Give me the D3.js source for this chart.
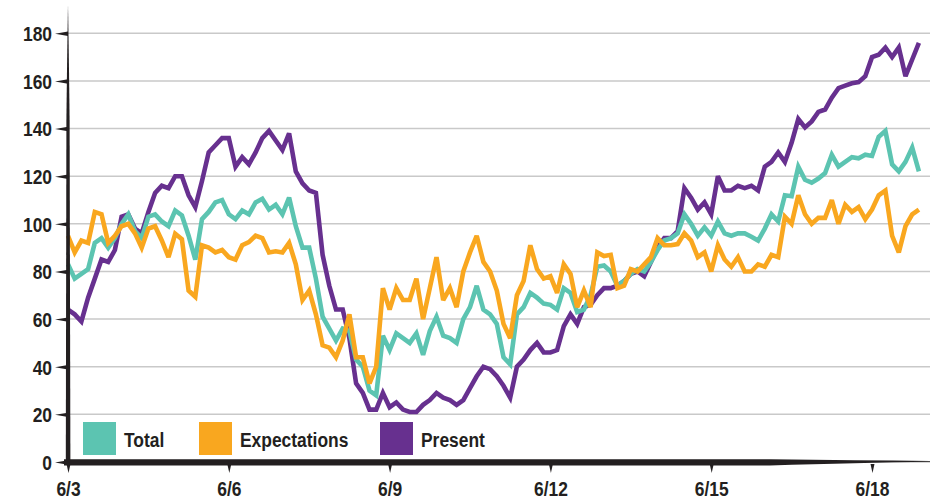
<!DOCTYPE html>
<html>
<head>
<meta charset="utf-8">
<script src="https://cdn.jsdelivr.net/npm/d3@7"></script>
<style>
  html, body { margin: 0; padding: 0; background: #fff; }
  svg { display: block; }
  text { font-family: "Liberation Sans", Arial, sans-serif; font-weight: bold; fill: #231f20; }
</style>
</head>
<body>
<svg id="chart" width="930" height="501"></svg>
<script>
// ---- data (3-hourly readings starting 6/3 00:00) ----
const startYear = 2021, startMonth = 5, startDay = 3, stepHours = 3;

const total = [83,77,79,81,92,94,90,94,100,104,97,94,103,104,101,99,105.6,103.5,95,85,
  102,105,109,110,104,102,105.6,104,109,110.5,106,108,104,111,99,90,90,77,61,56,
  51,56,55,43,40,30,28,53,47,54,52,50,54,45,55,61,53,52,50,60,
  65,74,64,62,58,44,41,62,65,71,69,66.5,66,64,73,71,63,64,70,82,
  82.5,80,74,76,79,81,80,84,89,93,94,96,104,100,95,98.5,95,101,96,95,
  96,96,94.6,93,98,104,101,112,111.6,124,118.5,117.3,119,121.3,129,124,126,128,127.5,129,
  128.5,136.5,139,125,122,126,132,122];

const expectations = [95,88,93,92,105,104,92,95,99,100,96,90,98,99,93,86,95.8,93.5,72,69.4,
  91,90,88,89,86,85,91,92.3,95,94,88,88.5,88,92,83,68,72,62,49,48,
  44,51,62,44,44,33,40,73,64,73,68,68,77,60,73,86,68,73,65,80,
  88,95,84,80,72,58,52,70,76,91,81,77,78,71,83,79,65,72,65,88,
  86.5,87,73,74,81,80,83,86,94,91,91,91.5,96,93,86,88,80,91,85,82,
  86,80,80,83,82,87,86,103,100,112,104,100,102.5,102.5,110,100,108,105,107,102,
  106,112,114,95,88,99,104,106];

const present = [64,62,59,69,77,85,84,89,103,104,98,96,105,113,116,115,120,120,112,107,
  118,130,133,136,136,124,128,125,130,136,139,135,131,138,122,117,114,113,87,74,
  64,64,52,33,29,22,22,29,23,25,22,21,21,24,26,29,27,26,24,26,
  31,36,40,39,36,32,27,40,43,47,50,46,46,47,57,62,58,65,66,70,
  73,73,74,76,79,80,78,84,90,94,94,97,115,111,106,109,104,120,114,114,
  116,115,116,114,124,126,130,126,134,144,140.5,143,147,148,153,157,158,159,159.5,162,
  170,171,174,170,174,162,169,176];

const seriesNames = ["Total", "Expectations", "Present"];
const seriesColors = ["#5cc4b1", "#f9a71f", "#67308f"];
const yTicks = [0, 20, 40, 60, 80, 100, 120, 140, 160, 180];
const xTickLabels = ["6/3", "6/6", "6/9", "6/12", "6/15", "6/18"];

// ---- build ----
const SX = 0.83; // horizontal condensing of the bold font
const times = total.map((_, i) => new Date(startYear, startMonth, startDay, i * stepHours));
const xTickDates = xTickLabels.map(s => new Date(startYear, +s.split("/")[0] - 1, +s.split("/")[1]));

const svg = d3.select("#chart");
const x = d3.scaleTime()
  .domain([new Date(startYear, startMonth, 3), new Date(startYear, startMonth, 18)])
  .range([68, 872]);
const y = d3.scaleLinear().domain([0, 180]).range([462, 33.3]);

// gridlines
svg.append("g").selectAll("line").data(yTicks).join("line")
  .attr("x1", 68).attr("x2", 930)
  .attr("y1", d => y(d)).attr("y2", d => y(d))
  .attr("stroke", "#c9c9c9").attr("stroke-width", 1.5);

// lines
const lineGen = d3.line().x((d, i) => x(times[i])).y(d => y(d));
const data = [total, expectations, present];
const drawOrder = [2, 0, 1];
drawOrder.forEach(k => {
  svg.append("path").datum(data[k])
    .attr("d", lineGen)
    .attr("fill", "none")
    .attr("stroke", seriesColors[k])
    .attr("stroke-width", 4.6)
    .attr("stroke-linejoin", "miter")
    .attr("stroke-miterlimit", 3);
});

// y axis
const yAxis = d3.axisLeft(y).tickValues(yTicks).tickSize(0).tickPadding(17);
const gy = svg.append("g").attr("transform", "translate(68,0)").call(yAxis);
gy.select(".domain").remove();
gy.selectAll(".tick line").remove();
gy.selectAll(".tick text").attr("font-size", 21).attr("dy", "0.35em").attr("fill", "#231f20")
  .style("font-family", null).attr("font-family", null)
  .attr("x", -16 / SX).attr("transform", `scale(${SX},1)`);
gy.selectAll(".tick").append("path")
  .attr("d", "M-13,0 L0,-2.2 L0,2.2 Z").attr("fill", "#231f20");

// x axis
const xAxis = d3.axisBottom(x).tickValues(xTickDates).tickFormat((d, i) => xTickLabels[i])
  .tickSize(0).tickPadding(19);
const gx = svg.append("g").attr("transform", "translate(0,462)").call(xAxis);
gx.select(".domain").remove();
gx.selectAll(".tick line").remove();
gx.selectAll(".tick text").attr("font-size", 21).attr("dy", "0.72em").attr("fill", "#231f20")
  .attr("font-family", null).attr("transform", `scale(${SX},1)`);
gx.selectAll(".tick").append("path")
  .attr("d", "M-2,2 L2,2 L0,11 Z").attr("fill", "#231f20");

// axis bodies (tapered)
svg.append("path")
  .attr("d", "M65.8,465 L66.4,120 Q67.3,40 68,5 Q68.7,40 69.6,120 L70.4,465 Z")
  .attr("fill", "#231f20");
svg.append("path")
  .attr("d", "M64,459.3 L770,459.3 Q860,460.3 932,461 L932,461.6 Q860,462.6 770,465.4 L64,465.4 Z")
  .attr("fill", "#231f20");

// legend
const legendX = [83, 199, 380];
const lg = svg.append("g").selectAll("g").data(seriesNames).join("g")
  .attr("transform", (d, i) => `translate(${legendX[i]},422)`);
lg.append("rect").attr("width", 33).attr("height", 33).attr("fill", (d, i) => seriesColors[i]);
lg.append("text").attr("x", 41 / SX).attr("y", 25).attr("font-size", 21)
  .attr("transform", `scale(${SX},1)`).text(d => d);
</script>
</body>
</html>
